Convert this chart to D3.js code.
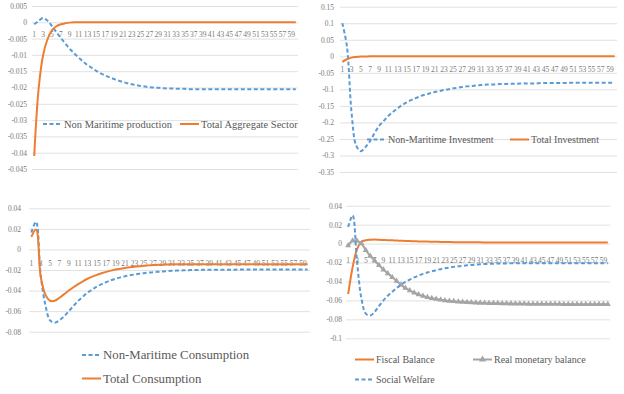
<!DOCTYPE html>
<html>
<head>
<meta charset="utf-8">
<script src="https://cdn.jsdelivr.net/npm/d3@7"></script>
<style>
  body { margin: 0; background: #fff; }
  svg { display: block; }
  .grid line { stroke: #d9d9d9; stroke-width: 0.8; }
  .tick text { fill: #7a7a7a; }
</style>
</head>
<body>
<div id="vis"></div>
<script>
const FRAME_WIDTH = 624;
const FRAME_HEIGHT = 394;
const SERIF = "'Liberation Serif', 'DejaVu Serif', serif";

// periods 1..60
const PERIODS = d3.range(1, 61);
const PERIOD_LABELS = PERIODS.filter(p => p % 2 === 1);

// top left
const NON_MARITIME_PRODUCTION = [
  -0.0006, 0.0004, 0.0013, 0.0005, -0.0012, -0.0030, -0.0048, -0.0065, -0.0081, -0.0095,
  -0.0108, -0.0120, -0.0131, -0.0140, -0.0149, -0.0157, -0.0163, -0.0169, -0.0174, -0.0179,
  -0.0183, -0.0187, -0.0190, -0.0193, -0.0195, -0.0197, -0.0199, -0.0200, -0.0201, -0.0202,
  -0.0203, -0.0203, -0.0204, -0.0204, -0.0204, -0.0205, -0.0205, -0.0205, -0.0205, -0.0205,
  -0.0205, -0.0205, -0.0205, -0.0205, -0.0205, -0.0205, -0.0205, -0.0205, -0.0205, -0.0205,
  -0.0205, -0.0205, -0.0205, -0.0205, -0.0205, -0.0205, -0.0205, -0.0205, -0.0205, -0.0205
];
const TOTAL_AGGREGATE_SECTOR = [
  -0.0410, -0.0203, -0.0101, -0.0052, -0.0025, -0.0012, -0.0006, -0.0003, -0.0001, 0,
  0, 0, 0, 0, 0, 0, 0, 0, 0, 0,
  0, 0, 0, 0, 0, 0, 0, 0, 0, 0,
  0, 0, 0, 0, 0, 0, 0, 0, 0, 0,
  0, 0, 0, 0, 0, 0, 0, 0, 0, 0,
  0, 0, 0, 0, 0, 0, 0, 0, 0, 0
];

// top right
const NON_MARITIME_INVESTMENT = [
  0.100, 0.030, -0.170, -0.270, -0.287, -0.275, -0.257, -0.232, -0.210, -0.195,
  -0.180, -0.168, -0.157, -0.147, -0.139, -0.132, -0.126, -0.120, -0.116, -0.112,
  -0.108, -0.105, -0.102, -0.100, -0.097, -0.095, -0.093, -0.091, -0.090, -0.088,
  -0.087, -0.086, -0.085, -0.085, -0.084, -0.084, -0.083, -0.083, -0.083, -0.082,
  -0.082, -0.082, -0.082, -0.081, -0.081, -0.081, -0.081, -0.081, -0.081, -0.080,
  -0.080, -0.080, -0.080, -0.080, -0.080, -0.080, -0.080, -0.080, -0.080, -0.080
];
const TOTAL_INVESTMENT = [
  -0.017, -0.009, -0.004, -0.002, -0.001, -0.0005, 0, 0, 0, 0,
  0, 0, 0, 0, 0, 0, 0, 0, 0, 0,
  0, 0, 0, 0, 0, 0, 0, 0, 0, 0,
  0, 0, 0, 0, 0, 0, 0, 0, 0, 0,
  0, 0, 0, 0, 0, 0, 0, 0, 0, 0,
  0, 0, 0, 0, 0, 0, 0, 0, 0, 0
];

// bottom left
const NON_MARITIME_CONSUMPTION = [
  0.0165, 0.0268, -0.0250, -0.0540, -0.0690, -0.0712, -0.0690, -0.0650, -0.0600, -0.0550,
  -0.0500, -0.0460, -0.0420, -0.0390, -0.0360, -0.0338, -0.0318, -0.0300, -0.0285, -0.0272,
  -0.0261, -0.0252, -0.0244, -0.0237, -0.0231, -0.0226, -0.0222, -0.0218, -0.0214, -0.0211,
  -0.0208, -0.0206, -0.0204, -0.0202, -0.0201, -0.0200, -0.0199, -0.0198, -0.0198, -0.0197,
  -0.0197, -0.0197, -0.0197, -0.0197, -0.0196, -0.0196, -0.0196, -0.0196, -0.0196, -0.0196,
  -0.0196, -0.0196, -0.0196, -0.0196, -0.0196, -0.0196, -0.0196, -0.0196, -0.0196, -0.0196
];
const TOTAL_CONSUMPTION = [
  0.0122, 0.0194, -0.0266, -0.0440, -0.0499, -0.0499, -0.0470, -0.0435, -0.0400, -0.0368,
  -0.0338, -0.0310, -0.0285, -0.0265, -0.0247, -0.0232, -0.0218, -0.0206, -0.0196, -0.0188,
  -0.0180, -0.0174, -0.0168, -0.0163, -0.0159, -0.0155, -0.0152, -0.0150, -0.0148, -0.0146,
  -0.0145, -0.0144, -0.0143, -0.0143, -0.0143, -0.0143, -0.0143, -0.0143, -0.0143, -0.0143,
  -0.0143, -0.0143, -0.0143, -0.0143, -0.0143, -0.0143, -0.0143, -0.0143, -0.0143, -0.0143,
  -0.0143, -0.0143, -0.0143, -0.0143, -0.0143, -0.0143, -0.0143, -0.0143, -0.0143, -0.0143
];

// bottom right
const FISCAL_BALANCE = [
  -0.0534, -0.0250, -0.0060, 0.0020, 0.0035, 0.0040, 0.0042, 0.0040, 0.0038, 0.0036,
  0.0034, 0.0032, 0.0030, 0.0028, 0.0026, 0.0025, 0.0023, 0.0022, 0.0021, 0.0020,
  0.0019, 0.0018, 0.0017, 0.0016, 0.0015, 0.0015, 0.0014, 0.0014, 0.0013, 0.0013,
  0.0013, 0.0012, 0.0012, 0.0012, 0.0012, 0.0012, 0.0012, 0.0012, 0.0012, 0.0012,
  0.0012, 0.0012, 0.0012, 0.0012, 0.0012, 0.0012, 0.0012, 0.0012, 0.0012, 0.0012,
  0.0012, 0.0012, 0.0012, 0.0012, 0.0012, 0.0012, 0.0012, 0.0012, 0.0012, 0.0012
];
const REAL_MONETARY_BALANCE = [
  -0.0020, 0.0030, 0.0030, 0.0000, -0.0070, -0.0130, -0.0180, -0.0230, -0.0275, -0.0315,
  -0.0355, -0.0395, -0.0435, -0.0470, -0.0495, -0.0518, -0.0537, -0.0553, -0.0566, -0.0577,
  -0.0586, -0.0594, -0.0600, -0.0605, -0.0609, -0.0613, -0.0616, -0.0619, -0.0622, -0.0624,
  -0.0626, -0.0628, -0.0629, -0.0630, -0.0631, -0.0632, -0.0633, -0.0634, -0.0635, -0.0636,
  -0.0636, -0.0637, -0.0637, -0.0638, -0.0638, -0.0638, -0.0639, -0.0639, -0.0639, -0.0640,
  -0.0640, -0.0640, -0.0640, -0.0640, -0.0640, -0.0640, -0.0640, -0.0640, -0.0640, -0.0640
];
const SOCIAL_WELFARE = [
  0.0175, 0.0298, -0.0190, -0.0580, -0.0740, -0.0760, -0.0720, -0.0660, -0.0600, -0.0550,
  -0.0510, -0.0470, -0.0435, -0.0405, -0.0380, -0.0357, -0.0337, -0.0320, -0.0305, -0.0292,
  -0.0280, -0.0270, -0.0261, -0.0253, -0.0246, -0.0240, -0.0235, -0.0230, -0.0226, -0.0222,
  -0.0219, -0.0216, -0.0214, -0.0212, -0.0211, -0.0210, -0.0209, -0.0208, -0.0208, -0.0207,
  -0.0207, -0.0207, -0.0207, -0.0207, -0.0207, -0.0207, -0.0207, -0.0207, -0.0207, -0.0207,
  -0.0207, -0.0207, -0.0207, -0.0207, -0.0207, -0.0207, -0.0207, -0.0207, -0.0207, -0.0207
];

const BLUE = "#5b9bd5";
const ORANGE = "#ed7d31";
const GRAY = "#a5a5a5";

const PANELS = [
  {
    left: 32, right: 298, top: 6, bottom: 169,
    yMin: -0.045, yMax: 0.005, yStep: 0.005, labelRight: 27, catPad: 9,
    legendFont: 10.5,
    series: [
      { name: "Non Maritime production", values: NON_MARITIME_PRODUCTION, color: BLUE, dash: true, lx: 43, ly: 124 },
      { name: "Total Aggregate Sector", values: TOTAL_AGGREGATE_SECTOR, color: ORANGE, lx: 180, ly: 124 }
    ]
  },
  {
    left: 340, right: 617, top: 6.7, bottom: 172,
    yMin: -0.35, yMax: 0.15, yStep: 0.05, labelRight: 334, catPad: 10,
    legendFont: 10.1,
    series: [
      { name: "Non-Maritime Investment", values: NON_MARITIME_INVESTMENT, color: BLUE, dash: true, lx: 367, ly: 139.5 },
      { name: "Total Investment", values: TOTAL_INVESTMENT, color: ORANGE, lx: 510, ly: 139.5 }
    ]
  },
  {
    left: 29, right: 310, top: 208.3, bottom: 331.7,
    yMin: -0.08, yMax: 0.04, yStep: 0.02, labelRight: 21, catPad: 11.5,
    legendFont: 12.8,
    series: [
      { name: "Non-Maritime Consumption", values: NON_MARITIME_CONSUMPTION, color: BLUE, dash: true, lx: 82, ly: 355 },
      { name: "Total Consumption", values: TOTAL_CONSUMPTION, color: ORANGE, lx: 82, ly: 378.5 }
    ]
  },
  {
    left: 346, right: 610, top: 205.7, bottom: 338.3,
    yMin: -0.1, yMax: 0.04, yStep: 0.02, labelRight: 342, catPad: 14,
    legendFont: 10,
    series: [
      { name: "Fiscal Balance", values: FISCAL_BALANCE, color: ORANGE, lx: 355, ly: 359.5 },
      { name: "Real monetary balance", values: REAL_MONETARY_BALANCE, color: GRAY, marker: true, lx: 473, ly: 359.5 },
      { name: "Social Welfare", values: SOCIAL_WELFARE, color: BLUE, dash: true, lx: 355, ly: 379.5 }
    ]
  }
];

const FRAME = d3.select('#vis')
  .append('svg')
  .attr('width', FRAME_WIDTH)
  .attr('height', FRAME_HEIGHT)
  .attr('font-family', SERIF);

function fmt(v) {
  return v === 0 ? "0" : String(+v.toFixed(4));
}

function drawPanel(p) {
  const g = FRAME.append("g");

  const X_SCALE = d3.scaleBand()
    .domain(PERIODS)
    .range([p.left, p.right]);

  const Y_SCALE = d3.scaleLinear()
    .domain([p.yMin, p.yMax])
    .range([p.bottom, p.top]);

  const n = Math.round((p.yMax - p.yMin) / p.yStep);
  const yTicks = d3.range(0, n + 1).map(i => +(p.yMin + i * p.yStep).toFixed(4));

  // gridlines
  g.append("g")
    .attr("class", "grid")
    .attr("transform", `translate(${p.left},0)`)
    .call(d3.axisLeft(Y_SCALE).tickValues(yTicks).tickSize(-(p.right - p.left)).tickFormat(""))
    .call(s => s.select(".domain").remove());

  // y labels
  g.append("g")
    .attr("transform", `translate(${p.labelRight},0)`)
    .call(d3.axisLeft(Y_SCALE).tickValues(yTicks).tickSize(0).tickPadding(0).tickFormat(fmt))
    .call(s => s.select(".domain").remove())
    .attr("font-family", SERIF)
    .attr("font-size", 7.5);

  // category labels along the zero line
  g.append("g")
    .attr("transform", `translate(0,${Y_SCALE(0)})`)
    .call(d3.axisBottom(X_SCALE).tickValues(PERIOD_LABELS).tickSize(0).tickPadding(p.catPad))
    .call(s => s.select(".domain").remove())
    .attr("font-family", SERIF)
    .attr("font-size", 7.5);

  const line = d3.line()
    .x((d, i) => X_SCALE(PERIODS[i]) + X_SCALE.bandwidth() / 2)
    .y(d => Y_SCALE(d))
    .curve(d3.curveCatmullRom.alpha(0.5));

  p.series.forEach(s => {
    g.append("path")
      .datum(s.values)
      .attr("d", line)
      .attr("fill", "none")
      .attr("stroke", s.color)
      .attr("stroke-width", 2)
      .attr("stroke-dasharray", s.dash ? "4,2.5" : null);

    if (s.marker) {
      g.selectAll(null)
        .data(s.values)
        .enter()
        .append("path")
        .attr("d", d3.symbol(d3.symbolTriangle, 16))
        .attr("transform", (d, i) => `translate(${X_SCALE(PERIODS[i]) + X_SCALE.bandwidth() / 2},${Y_SCALE(d)})`)
        .attr("fill", s.color);
    }

    // legend entry
    const lg = g.append("g").attr("transform", `translate(${s.lx},${s.ly})`);
    lg.append("line")
      .attr("x1", 0).attr("x2", 19)
      .attr("stroke", s.color)
      .attr("stroke-width", 2)
      .attr("stroke-dasharray", s.dash ? "4,2.5" : null);
    if (s.marker) {
      lg.append("path")
        .attr("d", d3.symbol(d3.symbolTriangle, 22))
        .attr("transform", "translate(9.5,0)")
        .attr("fill", s.color);
    }
    lg.append("text")
      .attr("x", 21)
      .attr("dy", "0.35em")
      .attr("font-family", SERIF)
      .attr("font-size", p.legendFont)
      .attr("fill", "#595959")
      .text(s.name);
  });
}

PANELS.forEach(drawPanel);
</script>
</body>
</html>
